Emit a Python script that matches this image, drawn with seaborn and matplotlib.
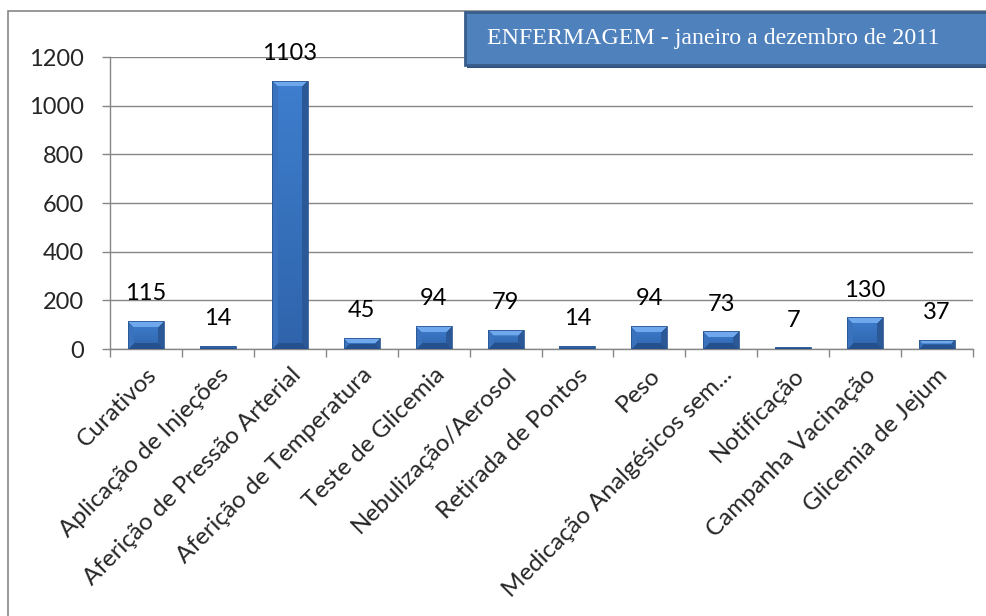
import numpy as np
import pandas as pd
import matplotlib
matplotlib.use("Agg")
import matplotlib.pyplot as plt
import seaborn as sns
from matplotlib.patches import Rectangle
from matplotlib.colors import to_rgb

categories = ["Curativos", "Aplicação de Injeções", "Aferição de Pressão Arterial",
              "Aferição de Temperatura", "Teste de Glicemia", "Nebulização/Aerosol",
              "Retirada de Pontos", "Peso", "Medicação Analgésicos sem...",
              "Notificação", "Campanha Vacinação", "Glicemia de Jejum"]
values = [115, 14, 1103, 45, 94, 79, 14, 94, 73, 7, 130, 37]
yticks = [0, 200, 400, 600, 800, 1000, 1200]
title = "ENFERMAGEM - janeiro a dezembro de 2011"

df = pd.DataFrame({"cat": categories, "val": values})

sns.set_theme(style="white")
plt.rcParams['font.family'] = ['Lato', 'DejaVu Sans']

W, H = 986, 616
fig = plt.figure(figsize=(W / 100, H / 100), dpi=100)
fig.patch.set_facecolor("white")
ax = fig.add_axes([110 / W, 1 - 349 / H, (973 - 110) / W, (349 - 57) / H])

sns.barplot(data=df, x="cat", y="val", ax=ax, width=0.5, color="#3A75C4",
            edgecolor="#2A5690", linewidth=0.6, saturation=1, zorder=3)

ax.set_xlim(-0.5, len(categories) - 0.5)
ax.set_ylim(0, 1200)

# bevelled fill for bars (Excel-like)
c_top = np.array(to_rgb("#6FA8EC"))
c_left = np.array(to_rgb("#3A72BE"))
c_right = np.array(to_rgb("#2B5896"))
c_bot = np.array(to_rgb("#25518E"))
c_c1 = np.array(to_rgb("#3E7ECE"))
c_c2 = np.array(to_rgb("#2F64AB"))
bev = 6.0
for p in ax.patches:
    x0, y0 = p.get_x(), p.get_y()
    w, h = p.get_width(), p.get_height()
    (px0, py0), (px1, py1) = ax.transData.transform([(x0, y0), (x0 + w, y0 + h)])
    nx = max(int(round(px1 - px0)), 2)
    ny = max(int(round(py1 - py0)), 2)
    xs = (np.arange(nx) + 0.5)[None, :].repeat(ny, 0)
    ys = (np.arange(ny) + 0.5)[:, None].repeat(nx, 1)
    dl, dr, dt, db = xs, nx - xs, ys, ny - ys
    b = min(bev, ny / 2.0)
    d = np.stack([dt, dl, dr, db])
    arg = d.argmin(0)
    mind = d.min(0)
    t = (ys / ny)[..., None]
    img = c_c1 * (1 - t) + c_c2 * t
    facets = [c_top, c_left, c_right, c_bot]
    for k in range(4):
        m = (arg == k) & (mind < b)
        img[m] = facets[k]
    im = ax.imshow(img, aspect="auto", extent=[x0, x0 + w, y0, y0 + h],
                   origin="upper", zorder=3.5, interpolation="bilinear")
    im.set_clip_path(p)
    p.set_facecolor("none")
    p.set_zorder(4)

ax.set_yticks(yticks)
ax.set_yticklabels([str(t) for t in yticks], fontsize=17)
ax.set_xlabel("")
ax.set_ylabel("")

grid_c = "#868686"
ax.yaxis.grid(True, color=grid_c, linewidth=1.0, zorder=0)
ax.set_axisbelow(True)
for s in ["top", "right"]:
    ax.spines[s].set_visible(False)
for s in ["left", "bottom"]:
    ax.spines[s].set_color(grid_c)
    ax.spines[s].set_linewidth(1.0)

ax.tick_params(axis="y", which="major", length=6, width=1.0, color=grid_c, pad=13, direction="out", left=True)
ax.set_xticks(range(len(categories)))
ax.set_xticklabels(categories, rotation=45, ha="right", va="top", rotation_mode="anchor", fontsize=17.5)
ax.tick_params(axis="x", which="major", length=0, pad=11, bottom=True)
ax.set_xticks(np.arange(-0.5, len(categories), 1), minor=True)
ax.tick_params(axis="x", which="minor", length=6, width=1.0, color=grid_c, direction="out", bottom=True)

for i, v in enumerate(values):
    ax.annotate(str(v), (i, v), xytext=(0, 12), textcoords="offset points",
                ha="center", va="bottom", fontsize=17, color="black", zorder=6,
                annotation_clip=False)

# outer frame
fig.add_artist(Rectangle((8 / W, -0.05), 1.1, (1 - 11 / H) + 0.05, transform=fig.transFigure,
                         fill=False, edgecolor=grid_c, linewidth=1.2, zorder=0))

# title box with shadow
fig.add_artist(Rectangle((467 / W, 1 - 68 / H), 1.0, (68 - 14) / H, transform=fig.transFigure,
                         facecolor="#2F4F78", edgecolor="none", zorder=9))
fig.add_artist(Rectangle((465 / W, 1 - 65 / H), 1.0, (65 - 12) / H, transform=fig.transFigure,
                         facecolor="#4F81BD", edgecolor="#385D8A", linewidth=2.0, zorder=10))
fig.text(487 / W, 1 - 38.5 / H, title, fontsize=17.2, color="white",
         family=["Liberation Serif", "DejaVu Serif"], ha="left", va="center", zorder=11)

fig.savefig("out.png", dpi=100)
